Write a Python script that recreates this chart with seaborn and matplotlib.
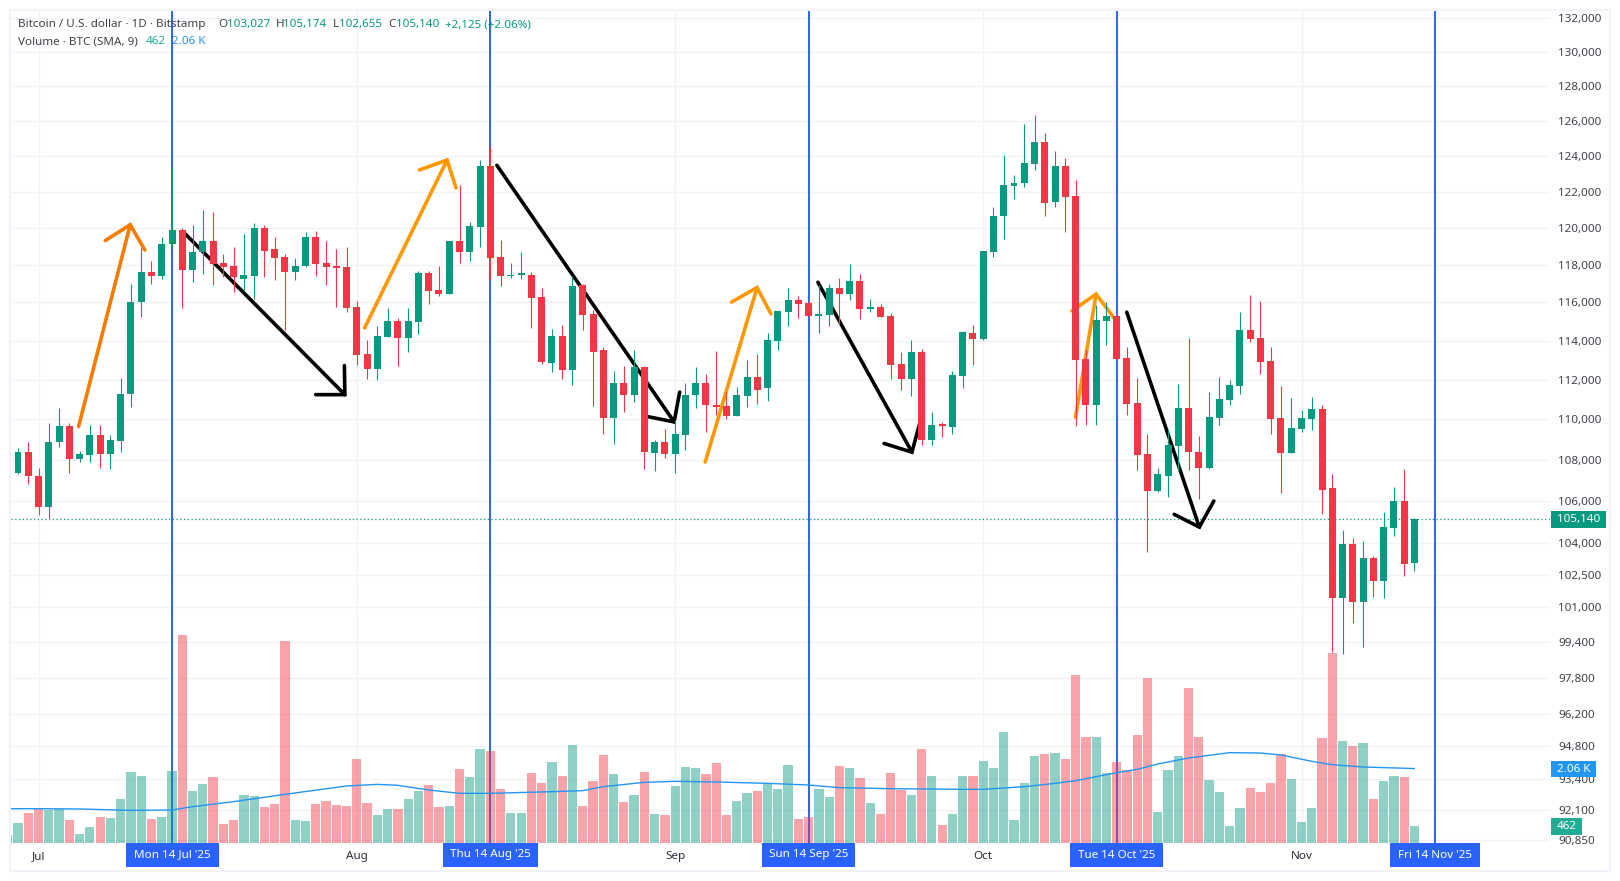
"""Bitcoin daily candles with volume, redrawn from a TradingView screenshot."""
# %%
import pandas as pd
import seaborn as sns
import matplotlib.pyplot as plt
from matplotlib.patches import Rectangle

# %%
first_day = "2025-06-28"
opens = [
    107050, 107345, 108400, 107190, 105700, 108850, 109670, 108020, 108220, 109220,
    108280, 108940, 111290, 116000, 117600, 117420, 119100, 119900, 117750, 118670,
    119310, 118080, 117960, 117230, 117420, 120020, 118830, 118440, 117640, 117960,
    119520, 118080, 117960, 117870, 115750, 113320, 112550, 114200, 115050, 114130,
    115000, 117540, 116670, 116460, 119310, 118670, 120060, 123400, 118400, 117400,
    117460, 117480, 116290, 112840, 114270, 112480, 116940, 115400, 113520, 110070,
    111810, 111240, 112630, 108350, 108850, 108260, 109240, 111200, 111810, 110730,
    110680, 110170, 111150, 112120, 111560, 113970, 115500, 116120, 115970, 115300,
    115350, 116790, 116430, 117150, 115660, 115760, 115300, 112790, 112020, 113400,
    108990, 109770, 109630, 112170, 114380, 114070, 118670, 120630, 122300, 122460,
    123520, 124770, 121410, 123410, 121740, 113040, 110740, 115040, 115300, 113090,
    110840, 108260, 106460, 107180, 108650, 110580, 108360, 107580, 110070, 110990,
    111660, 114580, 114120, 112940, 110070, 108310, 109520, 110020, 110530, 106600,
    101420, 103920, 101240, 103290, 102220, 104680, 106010, 103027,
]
highs = [
    107400, 108590, 108850, 107590, 109810, 110590, 109810, 108450, 109720, 109720,
    109220, 112070, 117000, 118890, 118230, 119520, 123370, 119980, 120130, 121000,
    120870, 118580, 118940, 119690, 120290, 120170, 119520, 118560, 118350, 119790,
    119850, 119310, 118830, 118940, 116080, 114020, 114790, 115730, 115160, 115730,
    117680, 117680, 117960, 119310, 122340, 120330, 123740, 124520, 119350, 118080,
    118670, 117640, 116790, 114630, 114840, 117390, 117000, 115610, 113660, 112430,
    112680, 113500, 112680, 108950, 109530, 109970, 111810, 112630, 112270, 113450,
    111350, 111610, 113000, 113300, 114380, 115560, 116790, 116340, 116220, 116940,
    117000, 117320, 118020, 117530, 116180, 115910, 115450, 113400, 114020, 113560,
    110380, 109870, 112430, 114530, 114840, 118720, 121130, 124020, 122910, 125810,
    126330, 125280, 124240, 123850, 122630, 113500, 115860, 116000, 115500, 113700,
    112070, 109280, 107580, 109530, 111760, 114120, 109180, 111350, 112120, 111970,
    115480, 116400, 116070, 113700, 111660, 111090, 110480, 111140, 110740, 107280,
    104600, 104210, 104060, 103390, 105440, 106660, 107540, 105174,
]
lows = [
    106950, 107290, 106810, 105310, 105190, 108610, 107345, 107880, 107910, 107590,
    107530, 108400, 110630, 115250, 117000, 117250, 118900, 115730, 117060, 117520,
    116940, 117350, 116560, 116620, 116170, 117360, 117200, 114570, 117200, 117900,
    117420, 116940, 115750, 115520, 112760, 112050, 111980, 114200, 112690, 113420,
    114340, 115930, 116350, 116460, 118080, 118230, 118980, 117230, 116880, 117280,
    117250, 114680, 112820, 112370, 112020, 111710, 114580, 110680, 109280, 108750,
    110380, 110890, 107530, 107430, 108100, 107330, 108460, 110580, 109380, 110220,
    110020, 110170, 110630, 110790, 110940, 113500, 114790, 115200, 115230, 114400,
    114790, 114890, 116120, 115120, 115500, 115250, 112020, 111500, 111150, 108700,
    108700, 109130, 109280, 111600, 112740, 114020, 118400, 119370, 121610, 122240,
    123190, 120670, 121130, 119750, 109690, 109740, 109740, 113760, 110000, 110220,
    107480, 103580, 106410, 106160, 107480, 107480, 106110, 107530, 109720, 110730,
    111290, 113910, 112270, 109280, 106360, 108310, 109380, 109480, 105350, 98950,
    98890, 100280, 99190, 101470, 101420, 104300, 102420, 102655,
]
closes = [
    107300, 108400, 107190, 105700, 108880, 109670, 108020, 108280, 109220, 108280,
    108990, 111290, 116000, 117600, 117420, 119150, 119900, 117750, 118700, 119310,
    118020, 117900, 117330, 117480, 120020, 118770, 118350, 117640, 117960, 119480,
    118020, 117900, 117810, 115730, 113270, 112550, 114270, 115050, 114130, 115050,
    117540, 116620, 116460, 119310, 118670, 120110, 123400, 118350, 117420, 117480,
    117540, 116250, 112900, 114270, 112480, 116880, 115320, 113400, 110070, 111810,
    111240, 112630, 108370, 108850, 108260, 109280, 111240, 111810, 110730, 110630,
    110170, 111200, 112120, 111500, 114020, 115560, 116120, 115910, 115300, 115400,
    116790, 116430, 117150, 115660, 115760, 115250, 112740, 112020, 113400, 108990,
    109720, 109680, 112220, 114430, 114070, 118720, 120630, 122350, 122460, 123570,
    124770, 121350, 123410, 121690, 113000, 110740, 115090, 115300, 113040, 110790,
    108210, 106460, 107280, 108700, 110580, 108360, 107580, 110120, 111040, 111710,
    114580, 114070, 112890, 110020, 108310, 109570, 110070, 110530, 106540, 101420,
    103920, 101240, 103290, 102220, 104730, 106010, 103000, 105140,
]
volumes = [
    216, 540, 810, 918, 891, 918, 621, 243, 432, 702, 675, 1188, 1917, 1809, 648, 702,
    1944, 5616, 1404, 1593, 1782, 513, 621, 1296, 1269, 972, 1053, 5454, 621, 594,
    1053, 1134, 1026, 999, 2268, 1080, 756, 918, 918, 1188, 1404, 1566, 972, 999,
    1998, 1782, 2538, 2484, 1458, 810, 810, 1890, 1620, 2187, 1809, 2646, 999, 1674,
    2376, 1863, 1107, 1296, 1917, 783, 756, 1539, 2052, 2025, 1863, 2160, 756, 1134,
    1350, 1404, 1620, 1458, 2106, 648, 702, 1458, 1242, 2079, 2025, 1755, 1080, 783,
    1890, 1431, 1296, 2538, 1809, 486, 783, 1809, 1809, 2214, 2025, 2997, 621, 1620,
    2349, 2403, 2430, 2268, 4536, 2862, 2862, 1890, 2187, 1971, 2916, 4455, 837, 1971,
    2349, 4185, 2862, 1701, 1377, 459, 945, 1485, 1377, 1620, 2403, 1728, 567, 945,
    2835, 5130, 2754, 2619, 2700, 1188, 1674, 1809, 1782, 462,
]

# SMA at a few dates
sma_dates = [
    "2025-06-28", "2025-07-01", "2025-07-05", "2025-07-10", "2025-07-14", "2025-07-16",
    "2025-07-20", "2025-07-25", "2025-07-31", "2025-08-03", "2025-08-05", "2025-08-08",
    "2025-08-11", "2025-08-14", "2025-08-20", "2025-08-23", "2025-08-25", "2025-08-29",
    "2025-09-01", "2025-09-05", "2025-09-10", "2025-09-14", "2025-09-17", "2025-09-22",
    "2025-09-29", "2025-10-01", "2025-10-05", "2025-10-08", "2025-10-10", "2025-10-14",
    "2025-10-16", "2025-10-18", "2025-10-21", "2025-10-25", "2025-10-28", "2025-10-30",
    "2025-11-02", "2025-11-04", "2025-11-07", "2025-11-12",
]
sma_values = [
    927, 927, 918, 882, 891, 981, 1116, 1314, 1539, 1584, 1557, 1431, 1341, 1341, 1386,
    1413, 1521, 1638, 1665, 1647, 1611, 1566, 1494, 1467, 1449, 1449, 1521, 1611, 1683,
    1899, 1989, 2133, 2295, 2439, 2430, 2376, 2205, 2115, 2052, 2010,
]

price_ticks = [
    132000, 130000, 128000, 126000, 124000, 122000, 120000, 118000, 116000, 114000,
    112000, 110000, 108000, 106000, 104000, 102500, 101000, 99400, 97800, 96200,
    94800, 93400, 92100, 90850,
]
month_dates = ["2025-07-01", "2025-08-01", "2025-09-01", "2025-10-01", "2025-11-01"]
month_names = ["Jul", "Aug", "Sep", "Oct", "Nov"]
cycle_dates = ["2025-07-14", "2025-08-14", "2025-09-14", "2025-10-14", "2025-11-14"]
cycle_names = [
    "Mon 14 Jul '25", "Thu 14 Aug '25", "Sun 14 Sep '25", "Tue 14 Oct '25", "Fri 14 Nov '25",
]

# hand drawn arrows, (days since 1 Jul, price): tail, tip, barb, barb
arrow_colors = [
    "#F57C00", "#000000", "#FF9800", "#000000", "#FF9800", "#000000", "#FF9800", "#000000",
]
arrow_days = [
    [3.9, 8.93, 6.5, 10.35],
    [14.26, 29.83, 26.99, 29.79],
    [31.76, 39.79, 37.09, 40.66],
    [44.64, 61.9, 59.37, 62.44],
    [64.93, 69.98, 67.49, 71.33],
    [75.9, 85.06, 82.34, 85.8],
    [100.99, 103.0, 100.64, 104.75],
    [105.98, 113.05, 110.6, 114.46],
]
arrow_prices = [
    [109640, 120170, 119310, 118800],
    [119690, 111240, 111240, 112720],
    [114670, 123760, 123200, 122200],
    [123460, 109870, 110130, 111370],
    [107890, 116790, 116020, 115400],
    [117070, 108370, 108800, 109770],
    [110100, 116440, 115560, 115180],
    [115490, 104740, 105350, 105990],
]

UP = "#089981"
DOWN = "#F23645"
BLUE = "#2962FF"
GRID = "#F2F3F6"
TEXT = "#3E424C"
WIDTH, HEIGHT = 1620, 881
X_RANGE = (-2.73, 147.2)


def day_of(date):
    """Days since 1 Jul."""
    return (pd.Timestamp(date) - pd.Timestamp("2025-07-01")).days


def fx(px):
    """Pixel to figure fraction."""
    return px / WIDTH


def fy(px):
    """Pixel from the top to figure fraction."""
    return 1 - px / HEIGHT


def label(x, y, text, color=TEXT, **kwargs):
    """Put a text on the figure at a pixel position."""
    fig.text(fx(x), fy(y), text, color=color, va="center", fontsize=8.4, **kwargs)


def tag(x0, x1, y0, y1, text, color, **kwargs):
    """Coloured box with white text."""
    fig.add_artist(
        Rectangle(
            (fx(x0), fy(y1)), fx(x1 - x0), (y1 - y0) / HEIGHT,
            transform=fig.transFigure, facecolor=color, edgecolor="none", zorder=5,
        )
    )
    fig.text(
        fx((x0 + x1) / 2), fy((y0 + y1) / 2), text, color="white", ha="center", va="center",
        fontsize=8.4, zorder=6, **kwargs,
    )


# %%
sns.set_theme(style="white")
plt.rcParams["font.family"] = ["Noto Sans", "DejaVu Sans"]

dates = pd.date_range(first_day, periods=len(opens))
df = pd.DataFrame(
    {"open": opens, "high": highs, "low": lows, "close": closes, "volume": volumes}
)
df["day"] = [day_of(d) for d in dates]
df["side"] = ["up" if c >= o else "down" for o, c in zip(opens, closes)]
up = df[df["side"] == "up"]
down = df[df["side"] == "down"]
df_sma = pd.DataFrame({"day": [day_of(d) for d in sma_dates], "sma": sma_values})

fig = plt.figure(figsize=(WIDTH / 100, HEIGHT / 100), dpi=100)
box = [fx(10.5), fy(843), fx(1550 - 10.5), (843 - 10) / HEIGHT]
ax = fig.add_axes(box)
ax_vol = ax.twinx()
ax_vol.set_zorder(ax.get_zorder() + 1)
ax_vol.patch.set_visible(False)

# %%
# volume pane
sns.barplot(
    data=df, x="day", y="volume", hue="side", palette={"up": UP, "down": DOWN},
    native_scale=True, dodge=False, width=0.9, saturation=1, alpha=0.45,
    linewidth=0, errorbar=None, legend=False, ax=ax_vol,
)
sns.lineplot(data=df_sma, x="day", y="sma", color="#2196F3", lw=1, ax=ax_vol)
ax_vol.set_ylim(0, 22491)
ax_vol.set_yticks([])
ax_vol.set_ylabel("")
sns.despine(ax=ax_vol, left=True, right=True, top=True, bottom=True)

# %%
# price pane
ax.set_yscale("log")
for tick in price_ticks:
    ax.axhline(tick, color=GRID, lw=1, zorder=0)
for date in month_dates:
    ax.axvline(day_of(date), color=GRID, lw=1, zorder=0)
for date in cycle_dates:
    ax.axvline(day_of(date), color=BLUE, lw=1.4, zorder=1)
ax.axhline(closes[-1], color=UP, lw=0.9, ls=(0, (1, 2)), zorder=1)

for color, xs, ys in zip(arrow_colors, arrow_days, arrow_prices):
    ax.plot(xs[:2], ys[:2], color=color, lw=2.6, solid_capstyle="round", zorder=2)
    ax.plot([xs[2], xs[1], xs[3]], [ys[2], ys[1], ys[3]], color=color, lw=2.6,
            solid_capstyle="round", solid_joinstyle="miter", zorder=2)

for part, color in [(up, UP), (down, DOWN)]:
    ax.vlines(part["day"], part["low"], part["high"], color=color, lw=0.8, zorder=3)
    tops = part[["open", "close"]].max(axis=1)
    bottoms = part[["open", "close"]].min(axis=1)
    ax.bar(part["day"], tops - bottoms, bottom=bottoms, width=0.68, color=color,
           linewidth=0, zorder=3)

ax.set_ylim(90730, 132493)
ax.minorticks_off()
ax.yaxis.tick_right()
ax.set_yticks(price_ticks, [f"{t:,}" for t in price_ticks])
ax.set_xticks([day_of(d) for d in month_dates], month_names)
ax.set_xlim(*X_RANGE)
ax.tick_params(axis="y", length=0, pad=5.8, labelsize=8.4, labelcolor=TEXT)
ax.tick_params(axis="x", length=0, pad=6, labelsize=8.4, labelcolor="#2A2E39")
ax.set_xlabel("")
ax.set_ylabel("")
sns.despine(ax=ax, left=True, right=True, top=True, bottom=True)

# %%
# outer frame, legend rows and axis tags
fig.add_artist(
    Rectangle(
        (fx(10), fy(870.5)), fx(1600), 860.5 / HEIGHT, transform=fig.transFigure,
        facecolor="none", edgecolor="#F0F3FA", lw=1.5,
    )
)
label(18, 24.7, "Bitcoin / U.S. dollar · 1D · Bitstamp")
for x, name, x_val, val in [
    (218, "O", 227, "103,027"),
    (276, "H", 283.5, "105,174"),
    (332.5, "L", 339, "102,655"),
    (388, "C", 396, "105,140"),
]:
    label(x, 24.7, name)
    label(x_val, 24.7, val, color=UP)
label(444.6, 24.7, "+2,125 (+2.06%)", color=UP)
label(18, 42, "Volume · BTC (SMA, 9)")
label(145.4, 42, "462", color="#22AB94")
label(172, 42, "2.06 K", color="#2196F3")

tag(1551, 1606, 511, 528, "105,140", UP, fontweight="bold")
tag(1551, 1596, 761, 777, "2.06 K", "#2196F3", fontweight="bold")
tag(1551, 1582, 818, 835, "462", "#22AB94", fontweight="bold")

fig.canvas.draw()
for date, name, half in zip(cycle_dates, cycle_names, [46.5, 47.7, 46.5, 46.5, 44.8]):
    center = fig.transFigure.inverted().transform(ax.transData.transform((day_of(date), 100000)))[0]
    center = center * WIDTH
    tag(center - half, center + half, 843, 867, name, BLUE)

fig.savefig("out.png", dpi=100)
